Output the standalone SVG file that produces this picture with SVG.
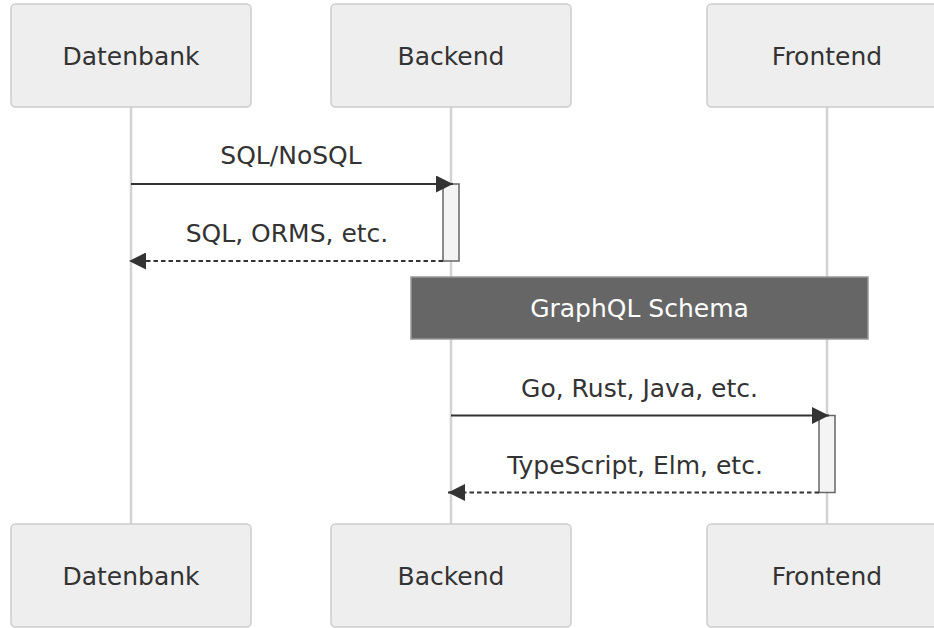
<svg xmlns="http://www.w3.org/2000/svg" width="934" height="628" viewBox="0 0 934 628">
<style>
.actor{fill:#eeeeee;stroke:#cccccc;stroke-width:1.5}
.atext{font-family:"DejaVu Sans",sans-serif;font-size:25px;fill:#333333;text-anchor:middle}
.life{stroke:#d3d3d3;stroke-width:2.5;fill:none}
.msg{stroke:#333333;stroke-width:2;fill:none}
.dash{stroke-dasharray:4.5,3}
.mtext{font-family:"DejaVu Sans",sans-serif;font-size:25px;fill:#333333;text-anchor:middle}
.act{fill:#f4f4f4;stroke:#666666;stroke-width:1.5}
.note{fill:#666666;stroke:#999999;stroke-width:1.5}
.ntext{font-family:"DejaVu Sans",sans-serif;font-size:25px;fill:#ffffff;text-anchor:middle}
</style>
<defs>
<marker id="arrow" markerUnits="userSpaceOnUse" viewBox="0 0 10 10" refX="10" refY="5" markerWidth="17" markerHeight="17" orient="auto">
<path d="M0,0 L10,5 L0,10 z" fill="#333333"/>
</marker>
</defs>
<rect width="934" height="628" fill="#ffffff"/>
<g id="lifelines">
<line class="life" x1="131" y1="107" x2="131" y2="524"/>
<line class="life" x1="451" y1="107" x2="451" y2="524"/>
<line class="life" x1="827" y1="107" x2="827" y2="524"/>
</g>
<g id="actor-datenbank-top"><rect class="actor" x="11" y="4" width="240" height="103" rx="4.5"/><text class="atext" x="131" y="65">Datenbank</text></g>
<g id="actor-backend-top"><rect class="actor" x="331" y="4" width="240" height="103" rx="4.5"/><text class="atext" x="451" y="65">Backend</text></g>
<g id="actor-frontend-top"><rect class="actor" x="707" y="4" width="240" height="103" rx="4.5"/><text class="atext" x="827" y="65">Frontend</text></g>
<g id="actor-datenbank-bottom"><rect class="actor" x="11" y="524" width="240" height="103" rx="4.5"/><text class="atext" x="131" y="585">Datenbank</text></g>
<g id="actor-backend-bottom"><rect class="actor" x="331" y="524" width="240" height="103" rx="4.5"/><text class="atext" x="451" y="585">Backend</text></g>
<g id="actor-frontend-bottom"><rect class="actor" x="707" y="524" width="240" height="103" rx="4.5"/><text class="atext" x="827" y="585">Frontend</text></g>
<g id="activation-backend"><rect class="act" x="443" y="184" width="16" height="77"/></g>
<g id="activation-frontend"><rect class="act" x="819" y="415.5" width="16" height="77"/></g>
<g id="note-graphql"><rect class="note" x="411" y="277" width="457" height="62"/><text class="ntext" x="639.5" y="317">GraphQL Schema</text></g>
<g id="connectors">
<line class="msg" x1="131" y1="184" x2="453" y2="184" marker-end="url(#arrow)"/>
<text class="mtext" x="291" y="164">SQL/NoSQL</text>
<line class="msg dash" x1="443" y1="261" x2="129" y2="261" marker-end="url(#arrow)"/>
<text class="mtext" x="287" y="242">SQL, ORMS, etc.</text>
<line class="msg" x1="451" y1="415.5" x2="829" y2="415.5" marker-end="url(#arrow)"/>
<text class="mtext" x="639.5" y="396.5">Go, Rust, Java, etc.</text>
<line class="msg dash" x1="819" y1="492.5" x2="448" y2="492.5" marker-end="url(#arrow)"/>
<text class="mtext" x="635" y="473.5">TypeScript, Elm, etc.</text>
</g>
</svg>
